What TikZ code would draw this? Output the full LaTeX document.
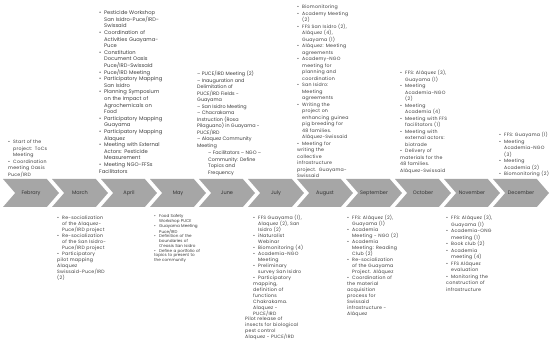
\documentclass[tikz,border=0pt]{standalone}
\usepackage{fontspec}
\setmainfont{Poppins}
\usepackage{tikz}
\usetikzlibrary{shapes.symbols,positioning}

\definecolor{chevgray}{HTML}{A6A6A6}
\definecolor{notegray}{HTML}{3C3C3C}

% bullet item with hanging indent (line breaks with \newline)
\newcommand{\itm}{\par\noindent\hangindent=5pt\hangafter=1\makebox[5pt][l]{\textbullet}}

\tikzset{
  month/.style={signal, signal to=east, signal from=west, signal pointer angle=98,
    fill=chevgray, minimum width=56pt, minimum height=28pt, inner sep=0pt,
    font=\fontsize{5}{6}\selectfont, text=black!80},
  note/.style={anchor=north west, inner sep=0pt, text width=75pt, align=left,
    font=\fontsize{4.7}{6.5}\selectfont\addfontfeature{LetterSpace=5}, text=notegray},
  dense note/.style={note, font=\fontsize{4.7}{6.0}\selectfont\addfontfeature{LetterSpace=5}},
  tight note/.style={note, font=\fontsize{5.2}{6.6}\selectfont},
  plain note/.style={anchor=north west, inner sep=0pt, align=left,
    font=\fontsize{4.9}{6.5}\selectfont, text=notegray},
}

\begin{document}
\begin{tikzpicture}[x=1pt, y=-1pt]
  \useasboundingbox (0,0) rectangle (550,350);

  % months
  \foreach \m [count=\i from 0] in {Febrary,March,April,May,June,July,August,September,October,November,December}
    \node[month] (m\i) at (31+49*\i,193) {\m};

  % above the timeline
  \node[note] (febnote) at (8,137) {
    \itm Start of the\newline project: ToCs\newline Meeting
    \itm Coordination\newline meeting Oasis\newline Puce/IRD};
  \node[tight note] (aprnote) at (99,8) {
    \itm Pesticide Workshop\newline San Isidro-Puce/IRD-\newline Swissaid
    \itm Coordination of\newline Activities Guayama-\newline Puce
    \itm Constitution\newline Document Oasis\newline Puce/IRD-Swissaid
    \itm Puce/IRD Meeting
    \itm Participatory Mapping\newline San Isidro
    \itm Planning Symposium\newline on the Impact of\newline Agrochemicals on\newline Food
    \itm Participatory Mapping\newline Guayama
    \itm Participatory Mapping\newline Alaquez
    \itm Meeting with External\newline Actors: Pesticide\newline Measurement
    \itm Meeting NGO-FFSs\newline Facilitators};
  \node[plain note] (junnote) at (197,71) {
    \textendash\ PUCE/IRD Meeting (2)\\
    \textendash\ Inauguration and\\
    Delimitation of\\
    PUCE/IRD Fields -\\
    Guayama\\
    \textendash\ San Isidro Meeting\\
    \textendash\ Chacrakama\\
    Instruction (Rosa\\
    Pilaguano) in Guayama -\\
    PUCE/IRD\\
    \textendash\ Alaquez Community\\
    Meeting};
  \node[plain note, below=2pt of junnote.south west, anchor=north west, xshift=11pt] (junnote2) {
    \textendash\ Facilitators \textendash\ NGO \textendash\\
    Community: Define\\
    Topics and\\
    Frequency};
  \node[note] (augnote) at (297,2) {
    \itm Biomonitoring
    \itm Academy Meeting\newline (2)
    \itm FFS San Isidro (2),\newline Aláquez (4),\newline Guayama (1)
    \itm Aláquez: Meeting\newline agreements
    \itm Academy-NGO\newline meeting for\newline planning and\newline coordination
    \itm San Isidro:\newline Meeting\newline agreements
    \itm Writing the\newline project on\newline enhancing guinea\newline pig breeding for\newline 48 families.\newline Aláquez-Swissaid
    \itm Meeting for\newline writing the\newline collective\newline infrastructure\newline project. Guayama-\newline Swissaid};
  \node[note] (octnote) at (400,68) {
    \itm FFS: Aláquez (3),\newline Guayama (1)
    \itm Meeting\newline Academia-NGO\newline (2)
    \itm Meeting\newline Academia (4)
    \itm Meeting with FFS\newline facilitators (1)
    \itm Meeting with\newline external actors:\newline biotrade
    \itm Delivery of\newline materials for the\newline 48 families.\newline Aláquez-Swissaid};
  \node[note] (decnote) at (499,130) {
    \itm FFS: Guayama (1)
    \itm Meeting\newline Academia-NGO\newline (3)
    \itm Meeting\newline Academia (2)
    \itm Biomonitoring (2)};

  % below the timeline
  \node[dense note] (marnote) at (57,213) {
    \itm Re-socialization\newline of the Alaquez-\newline Puce/IRD project
    \itm Re-socialization\newline of the San Isidro-\newline Puce/IRD project
    \itm Participatory\newline pilot mapping\newline Alaquez\newline Swissaid-Puce/IRD\newline (2)};
  \node[note, font=\fontsize{4.1}{4.7}\selectfont] (maynote) at (154,213) {
    \itm Food Safety\newline Workshop PUCE
    \itm Guayama Meeting\newline Puce/IRD
    \itm Definition of the\newline boundaries of\newline O'easis San Isidro
    \itm Define a portfolio of\newline topics to present to\newline the community};
  \node[dense note] (julnote) at (253,213) {
    \itm FFS Guayama (1),\newline Alaquez (2), San\newline Isidro (2)
    \itm iNaturalist\newline Webinar
    \itm Biomonitoring (4)
    \itm Academia-NGO\newline Meeting
    \itm Preliminary\newline survey San Isidro
    \itm Participatory\newline mapping,\newline definition of\newline functions\newline Chakrakama.\newline Alaquez -\newline PUCE/IRD};
  \node[dense note, text width=80pt, below=1pt of julnote.south west, anchor=north west, xshift=-8pt] (julnote2) {
    Pilot release of\newline
    insects for biological\newline
    pest control\newline
    Alaquez - PUCE/IRD};
  \node[dense note] (sepnote) at (347,213) {
    \itm FFS: Aláquez (2),\newline Guayama (1)
    \itm Academia\newline Meeting - NGO (2)
    \itm Academia\newline Meeting: Reading\newline Club (2)
    \itm Re-socialization\newline of the Guayama\newline Project. Aláquez
    \itm Coordination of\newline the material\newline acquisition\newline process for\newline Swissaid\newline infrastructure -\newline Aláquez};
  \node[note] (novnote) at (446,213) {
    \itm FFS: Aláquez (3),\newline Guayama (1)
    \itm Academia-ONG\newline meeting (1)
    \itm Book club (2)
    \itm Academia\newline meeting (4)
    \itm FFS Aláquez\newline evaluation
    \itm Monitoring the\newline construction of\newline infrastructure};
\end{tikzpicture}
\end{document}
